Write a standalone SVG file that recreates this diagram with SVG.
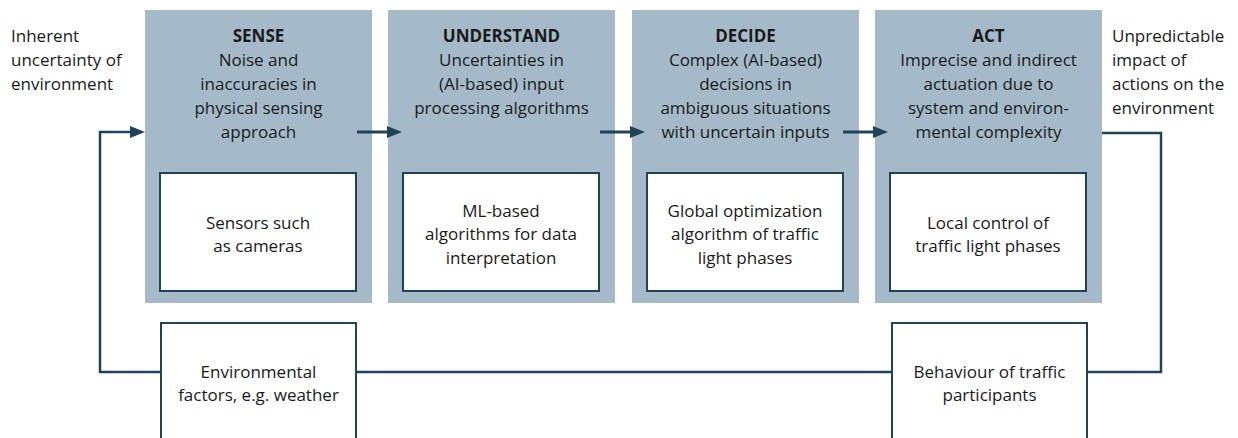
<svg xmlns="http://www.w3.org/2000/svg" width="1238" height="438" viewBox="0 0 1238 438">
<style>
text{font-family:"Open Sans","Noto Sans","Liberation Sans",sans-serif;font-size:17px;fill:#1a1a1a}
.c{text-anchor:middle}
.b{font-weight:bold}
.stage{fill:#a4bac9}
.inner{fill:#fff;stroke:#1f4357;stroke-width:2}
.conn{fill:none;stroke:#1f4357;stroke-width:2.5}
.arr{fill:none;stroke:#1f4357;stroke-width:3}
</style>
<defs>
<marker id="ah" markerUnits="userSpaceOnUse" markerWidth="15" markerHeight="12" refX="3" refY="6" orient="auto">
<path d="M0,0 L15,6 L0,12 z" fill="#1f4357"/>
</marker>
</defs>
<rect width="1238" height="438" fill="#fff"/>
<g id="label-left">
<text x="11" y="42.3">Inherent</text>
<text x="11" y="66.1">uncertainty of</text>
<text x="11" y="89.9">environment</text>
</g>
<g id="label-right">
<text x="1112" y="42.3">Unpredictable</text>
<text x="1112" y="66.1">impact of</text>
<text x="1112" y="89.9">actions on the</text>
<text x="1112" y="113.7">environment</text>
</g>
<g id="sense">
<rect class="stage" x="145" y="10" width="227" height="293"/>
<text class="c b" x="258.5" y="42.3">SENSE</text>
<text class="c" x="258.5" y="66.1">Noise and</text>
<text class="c" x="258.5" y="89.9">inaccuracies in</text>
<text class="c" x="258.5" y="113.7">physical sensing</text>
<text class="c" x="258.5" y="137.5">approach</text>
<rect class="inner" x="160" y="173" width="196" height="118"/>
<text class="c" x="258" y="228.5">Sensors such</text>
<text class="c" x="258" y="252.3">as cameras</text>
</g>
<g id="understand">
<rect class="stage" x="388" y="10" width="227" height="293"/>
<text class="c b" x="501.5" y="42.3">UNDERSTAND</text>
<text class="c" x="501.5" y="66.1">Uncertainties in</text>
<text class="c" x="501.5" y="89.9">(AI-based) input</text>
<text class="c" x="501.5" y="113.7">processing algorithms</text>
<rect class="inner" x="403" y="173" width="196" height="118"/>
<text class="c" x="501" y="216.6">ML-based</text>
<text class="c" x="501" y="240.4">algorithms for data</text>
<text class="c" x="501" y="264.2">interpretation</text>
</g>
<g id="decide">
<rect class="stage" x="632" y="10" width="227" height="293"/>
<text class="c b" x="745.5" y="42.3">DECIDE</text>
<text class="c" x="745.5" y="66.1">Complex (AI-based)</text>
<text class="c" x="745.5" y="89.9">decisions in</text>
<text class="c" x="745.5" y="113.7">ambiguous situations</text>
<text class="c" x="745.5" y="137.5">with uncertain inputs</text>
<rect class="inner" x="647" y="173" width="196" height="118"/>
<text class="c" x="745" y="216.6">Global optimization</text>
<text class="c" x="745" y="240.4">algorithm of traffic</text>
<text class="c" x="745" y="264.2">light phases</text>
</g>
<g id="act">
<rect class="stage" x="875" y="10" width="227" height="293"/>
<text class="c b" x="988.5" y="42.3">ACT</text>
<text class="c" x="988.5" y="66.1">Imprecise and indirect</text>
<text class="c" x="988.5" y="89.9">actuation due to</text>
<text class="c" x="988.5" y="113.7">system and environ-</text>
<text class="c" x="988.5" y="137.5">mental complexity</text>
<rect class="inner" x="890" y="173" width="196" height="118"/>
<text class="c" x="988" y="228.5">Local control of</text>
<text class="c" x="988" y="252.3">traffic light phases</text>
</g>
<g id="environment">
<rect class="inner" x="161" y="323" width="195" height="140"/>
<text class="c" x="258.5" y="377.5">Environmental</text>
<text class="c" x="258.5" y="401.3">factors, e.g. weather</text>
</g>
<g id="behaviour">
<rect class="inner" x="892" y="323" width="195" height="140"/>
<text class="c" x="989.5" y="377.5">Behaviour of traffic</text>
<text class="c" x="989.5" y="401.3">participants</text>
</g>
<g id="connectors">
<line class="arr" x1="357" y1="132" x2="390" y2="132" marker-end="url(#ah)"/>
<line class="arr" x1="600" y1="132" x2="633" y2="132" marker-end="url(#ah)"/>
<line class="arr" x1="843" y1="132" x2="876" y2="132" marker-end="url(#ah)"/>
<path class="conn" d="M161,372 H100 V132 H133" marker-end="url(#ah)"/>
<path class="conn" d="M892,372 H356"/>
<path class="conn" d="M1102,133 H1161 V372 H1087"/>
</g>
</svg>
